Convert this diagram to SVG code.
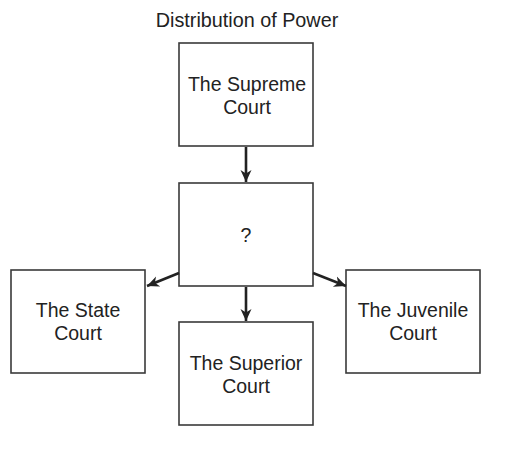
<svg xmlns="http://www.w3.org/2000/svg" width="525" height="461" viewBox="0 0 525 461">
<style>
.box{fill:#fff;stroke:#3a3a3a;stroke-width:1.6}
.t{font-family:"Liberation Sans",Arial,sans-serif;font-size:19.5px;fill:#222;text-anchor:middle}
.title{font-family:"Liberation Sans",Arial,sans-serif;font-size:19.8px;fill:#222;text-anchor:middle}
.c{stroke:#222;stroke-width:2.6;fill:none}
</style>
<defs>
<marker id="ah" markerUnits="userSpaceOnUse" markerWidth="13" markerHeight="13" refX="12" refY="6.5" orient="auto">
<path d="M0,1 L12,6.5 L0,12 L3.5,6.5 z" fill="#222"/>
</marker>
</defs>
<rect width="525" height="461" fill="#fff"/>
<text class="title" x="247" y="27">Distribution of Power</text>
<g id="supreme"><rect class="box" x="179" y="43" width="134" height="103"/><text class="t" x="247" y="91">The Supreme</text><text class="t" x="247" y="114">Court</text></g>
<g id="middle"><rect class="box" x="179" y="183" width="134" height="103"/><text class="t" x="246" y="242">?</text></g>
<g id="state"><rect class="box" x="11" y="270" width="134" height="103"/><text class="t" x="78" y="317">The State</text><text class="t" x="78" y="340">Court</text></g>
<g id="superior"><rect class="box" x="179" y="322" width="134" height="103"/><text class="t" x="246" y="370">The Superior</text><text class="t" x="246" y="393">Court</text></g>
<g id="juvenile"><rect class="box" x="346" y="270" width="134" height="103"/><text class="t" x="413" y="317">The Juvenile</text><text class="t" x="413" y="340">Court</text></g>
<g id="connectors">
<line class="c" x1="246" y1="147" x2="246" y2="182" marker-end="url(#ah)"/>
<line class="c" x1="246" y1="287" x2="246" y2="321" marker-end="url(#ah)"/>
<line class="c" x1="179" y1="273" x2="147" y2="286" marker-end="url(#ah)"/>
<line class="c" x1="313" y1="273" x2="346" y2="286" marker-end="url(#ah)"/>
</g>
</svg>
